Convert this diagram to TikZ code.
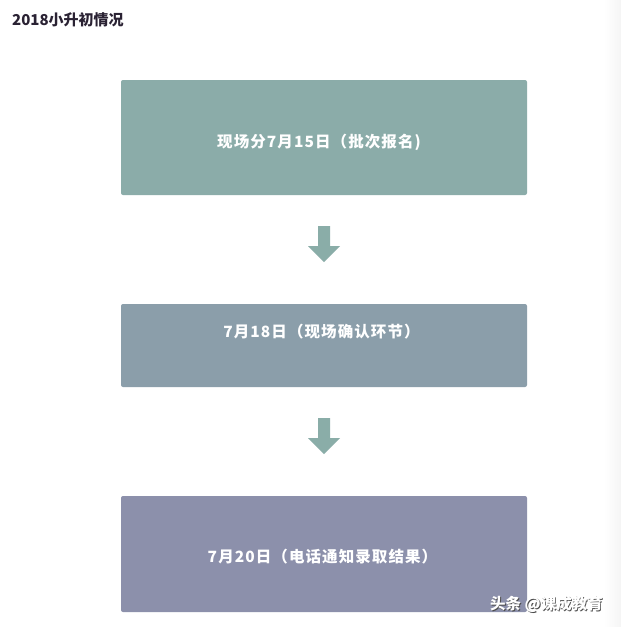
\documentclass[tikz,border=0pt]{standalone}
\usepackage{fontspec}
\setmainfont{Noto Sans CJK SC}
\newfontfamily\cjk{Noto Sans CJK SC}
\newfontfamily\cjksp[LetterSpace=7]{Noto Sans CJK SC}
\usetikzlibrary{calc}
\definecolor{boxA}{HTML}{8BACA9}
\definecolor{boxB}{HTML}{8B9EAA}
\definecolor{boxC}{HTML}{8C90AB}
\definecolor{arrowc}{HTML}{8AADA8}
\definecolor{titlec}{HTML}{2A2233}
\begin{document}
\begin{tikzpicture}[x=1pt,y=-1pt,
  stepbox/.style={rounded corners=2pt,inner sep=0pt},
  boxtext/.style={text=white,font=\cjksp\bfseries\fontsize{15.5}{18}\selectfont,inner sep=0pt,anchor=center},
  fatarrow/.style={fill=arrowc,draw=none}]
\useasboundingbox (0,0) rectangle (621,627);
\fill[white] (0,0) rectangle (621,627);
\shade[left color=white,right color=black!4] (604,0) rectangle (621,627);
% title
\node[anchor=west,inner sep=0pt,text=titlec,font=\cjk\bfseries\fontsize{15}{17}\selectfont] (title) at (12,20) {2018小升初情况};
% boxes
\fill[boxA,stepbox] (121,80) rectangle (527,195);
\node[boxtext] (t1) at (319,142) {现场分7月15日（批次报名)};
\fill[boxB,stepbox] (121,304) rectangle (527,387);
\node[boxtext] (t2) at (321.5,332) {7月18日（现场确认环节）};
\fill[boxC,stepbox] (121,496) rectangle (527,612);
\node[boxtext] (t3) at (322.5,557) {7月20日（电话通知录取结果）};
% arrows
\coordinate (a1) at (324,226);
\coordinate (a2) at (324,418);
\foreach \a in {a1,a2}{
  \fill[fatarrow] ($(\a)+(-6,0)$) -- ($(\a)+(6,0)$) -- ($(\a)+(6,20)$) -- ($(\a)+(16,20)$)
    -- ($(\a)+(0,36)$) -- ($(\a)+(-16,20)$) -- ($(\a)+(-6,20)$) -- cycle;
}
% watermark
\node[anchor=west,inner sep=0pt,text=black!70,font=\cjk\bfseries\fontsize{15.5}{17}\selectfont] (wm0) at (490.8,604.8) {头条 @课成教育};
\node[anchor=west,inner sep=0pt,text=white,font=\cjk\bfseries\fontsize{15.5}{17}\selectfont] (wm) at (490,604) {头条 @课成教育};
\end{tikzpicture}
\end{document}
